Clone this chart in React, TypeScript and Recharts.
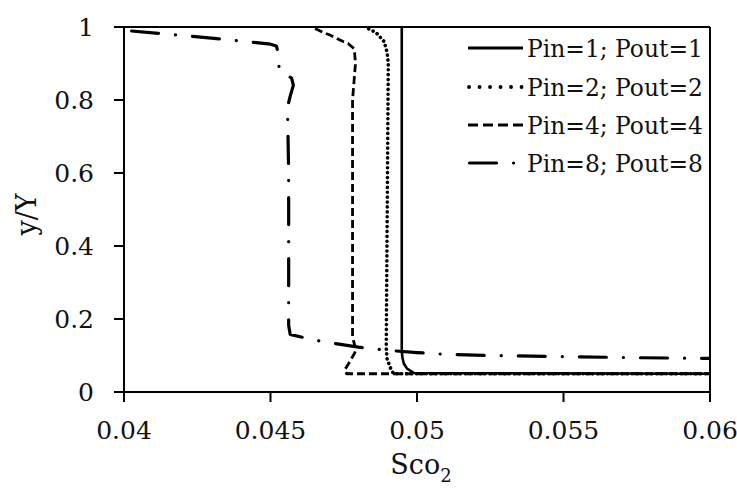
import React from 'react';
import { LineChart, Line, XAxis, YAxis, ReferenceLine, Legend, Label } from 'recharts';

const xTicks = [0.04, 0.045, 0.05, 0.055, 0.06];
const yTicks = [0, 0.2, 0.4, 0.6, 0.8, 1];
const seriesNames = ['Pin=1; Pout=1', 'Pin=2; Pout=2', 'Pin=4; Pout=4', 'Pin=8; Pout=8'];

const pin1X = [0.04948, 0.04948, 0.0495, 0.04955, 0.04966, 0.0499, 0.06];
const pin1Y = [1, 0.115, 0.095, 0.078, 0.064, 0.052, 0.05];

const pin2X = [0.04835, 0.0486, 0.04888, 0.04898, 0.04902, 0.04895, 0.04898, 0.0491, 0.0492, 0.06];
const pin2Y = [0.995, 0.985, 0.96, 0.93, 0.9, 0.12, 0.09, 0.065, 0.05, 0.05];

const pin4X = [0.04652, 0.04686, 0.04703, 0.04748, 0.04765, 0.04786, 0.0479, 0.0478, 0.0478, 0.04792, 0.04786, 0.0477, 0.04753, 0.0476, 0.06];
const pin4Y = [0.996, 0.983, 0.978, 0.96, 0.955, 0.94, 0.9, 0.8, 0.15, 0.115, 0.105, 0.082, 0.06, 0.05, 0.05];

const pin8X = [0.04026, 0.04333, 0.045, 0.0452, 0.04526, 0.0453, 0.04572, 0.04578, 0.04567, 0.04558, 0.04562, 0.04562, 0.04562, 0.04567, 0.0464, 0.047, 0.048, 0.049, 0.05, 0.051, 0.0525, 0.055, 0.0575, 0.06];
const pin8Y = [0.989, 0.967, 0.953, 0.948, 0.93, 0.88, 0.86, 0.84, 0.81, 0.78, 0.6, 0.25, 0.183, 0.158, 0.144, 0.135, 0.123, 0.114, 0.108, 0.103, 0.1, 0.097, 0.094, 0.092];

const toData = (xs: number[], ys: number[]) => xs.map((x, i) => ({ x, y: ys[i] }));

const seriesData = [toData(pin1X, pin1Y), toData(pin2X, pin2Y), toData(pin4X, pin4Y), toData(pin8X, pin8Y)];

const FONT = 'DejaVu Serif';
const INK = '#111111';

const lineStyles = [
  { strokeWidth: 2.6, strokeDasharray: undefined as string | undefined, strokeLinecap: 'butt' as const },
  { strokeWidth: 3.6, strokeDasharray: '0.1 4.8', strokeLinecap: 'round' as const },
  { strokeWidth: 2.8, strokeDasharray: '8 4', strokeLinecap: 'butt' as const },
  { strokeWidth: 3.2, strokeDasharray: '27 17 0.1 17', strokeLinecap: 'round' as const },
];

const legendStyles = [
  { strokeWidth: 3, dash: undefined as string | undefined, cap: 'butt' as const, x1: 468, x2: 523 },
  { strokeWidth: 3.8, dash: '0.1 10.4', cap: 'round' as const, x1: 469, x2: 523 },
  { strokeWidth: 3, dash: '10 5', cap: 'butt' as const, x1: 468, x2: 523 },
  { strokeWidth: 3.2, dash: '27 17 0.1 100', cap: 'round' as const, x1: 469.5, x2: 523 },
];

const rowY = [48, 87, 125, 163];

const LegendBox = () => (
  <svg width={737} height={200} style={{ display: 'block' }}>
    {seriesNames.map((name, i) => (
      <g key={name}>
        <line
          x1={legendStyles[i].x1}
          x2={legendStyles[i].x2}
          y1={rowY[i]}
          y2={rowY[i]}
          stroke="#000"
          strokeWidth={legendStyles[i].strokeWidth}
          strokeDasharray={legendStyles[i].dash}
          strokeLinecap={legendStyles[i].cap}
        />
        <text x={527} y={rowY[i] + 8.5} fontFamily={FONT} fontSize={23.4} fill={INK}>
          {name}
        </text>
      </g>
    ))}
  </svg>
);

export default function App() {
  return (
    <div style={{ position: 'absolute', left: 0, top: 0, width: 737, height: 489, background: '#fff' }}>
      <LineChart width={737} height={489} margin={{ top: 27, right: 27, left: 0, bottom: 0 }}>
        <XAxis
          dataKey="x"
          type="number"
          domain={[0.04, 0.06]}
          ticks={xTicks}
          allowDataOverflow
          height={97}
          tickSize={10}
          tickMargin={19}
          stroke="#000"
          strokeWidth={2}
          tick={{ fontFamily: FONT, fontSize: 25, fill: INK }}
          tickFormatter={(v: number) => String(v)}
        >
          <Label
            content={({ viewBox }: any) => {
              const cx = viewBox.x + viewBox.width / 2 + 4;
              return (
                <text x={cx} y={474} textAnchor="middle" fontFamily={FONT} fontSize={27} fill={INK}>
                  Sco
                  <tspan fontSize={18} dy={8}>2</tspan>
                </text>
              );
            }}
          />
        </XAxis>
        <YAxis
          dataKey="y"
          type="number"
          domain={[0, 1]}
          ticks={yTicks}
          allowDataOverflow
          width={124}
          tickSize={10}
          tickMargin={20}
          stroke="#000"
          strokeWidth={2}
          tick={{ fontFamily: FONT, fontSize: 25, fill: INK }}
          tickFormatter={(v: number) => String(v)}
        >
          <Label
            content={({ viewBox }: any) => {
              const cy = viewBox.y + viewBox.height / 2 + 5;
              return (
                <text
                  x={36}
                  y={cy}
                  transform={`rotate(-90 36 ${cy})`}
                  textAnchor="middle"
                  fontFamily={FONT}
                  fontSize={27}
                  fill={INK}
                >
                  y/Y
                </text>
              );
            }}
          />
        </YAxis>
        <ReferenceLine y={1} stroke="#000" strokeWidth={2} />
        <ReferenceLine x={0.06} stroke="#000" strokeWidth={2} />
        {seriesData.map((d, i) => (
          <Line
            key={seriesNames[i]}
            data={d}
            dataKey="y"
            name={seriesNames[i]}
            type="linear"
            stroke="#000"
            strokeWidth={lineStyles[i].strokeWidth}
            strokeDasharray={lineStyles[i].strokeDasharray}
            strokeLinecap={lineStyles[i].strokeLinecap}
            strokeLinejoin="round"
            dot={false}
            activeDot={false}
            isAnimationActive={false}
          />
        ))}
        <Legend
          layout="horizontal"
          verticalAlign="middle"
          align="center"
          wrapperStyle={{ position: 'absolute', left: 0, top: 0, width: 737, height: 200, pointerEvents: 'none' }}
          content={() => <LegendBox />}
        />
      </LineChart>
    </div>
  );
}
